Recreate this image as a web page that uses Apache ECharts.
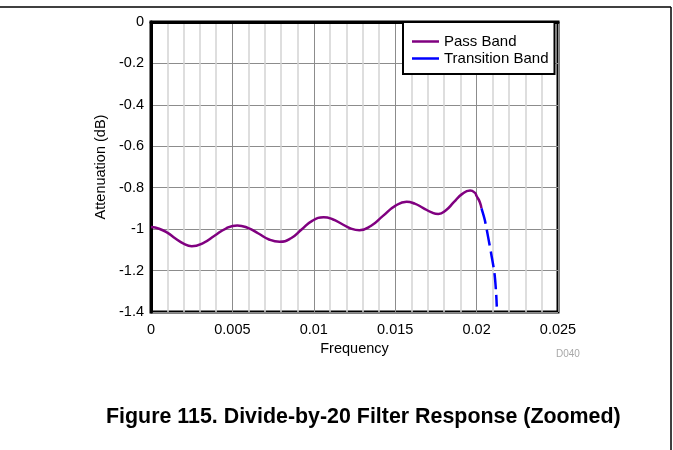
<!DOCTYPE html>
<html>
<head>
<meta charset="utf-8">
<script src="https://cdn.jsdelivr.net/npm/echarts@6/dist/echarts.min.js"></script>
<style>
  html, body { margin: 0; padding: 0; background: #fff; }
  #chart { width: 673px; height: 450px; }
</style>
</head>
<body>
<div id="chart"></div>
<script>
// pass band: [frequency, attenuation dB]
let passBand = [
  [0, -0.990], [0.0005, -0.998], [0.001, -1.017], [0.0015, -1.045], [0.002, -1.070],
  [0.0025, -1.082], [0.0032, -1.067], [0.0039, -1.032], [0.0046, -0.997], [0.0053, -0.982],
  [0.00595, -0.994], [0.0066, -1.021], [0.00725, -1.050], [0.0079, -1.061], [0.0086, -1.044],
  [0.00925, -1.002], [0.0099, -0.960], [0.0106, -0.943], [0.01115, -0.952], [0.0117, -0.974],
  [0.01225, -0.996], [0.0128, -1.005], [0.0135, -0.985], [0.01425, -0.936], [0.0150, -0.888],
  [0.0157, -0.868], [0.0162, -0.877], [0.0167, -0.897], [0.0172, -0.918], [0.01765, -0.927],
  [0.0181, -0.910], [0.0186, -0.870], [0.0191, -0.831], [0.0196, -0.814], [0.0199, -0.825],
  [0.0200, -0.840], [0.0202, -0.870], [0.0203, -0.900]
];
let transitionBand = [
  [0.0203, -0.900], [0.0205, -0.955], [0.0207, -1.035], [0.0209, -1.120],
  [0.0211, -1.215], [0.0212, -1.310], [0.02124, -1.374]
];
let seriesNames = ['Pass Band', 'Transition Band'];
let xTicks = { min: 0, max: 0.025, step: 0.005 };
let yTicks = { min: -1.4, max: 0, step: 0.2 };

let font = 'Liberation Sans, Arial, sans-serif';

let chart = echarts.init(document.getElementById('chart'));
let option = {
  animation: false,
  backgroundColor: '#fff',
  textStyle: { fontFamily: font },
  grid: {
    left: 151, top: 22, right: 115, bottom: 138,
    show: true, borderColor: '#000', borderWidth: 3
  },
  legend: {
    left: 403, top: 22,
    orient: 'vertical',
    backgroundColor: '#fff',
    borderColor: '#000',
    borderWidth: 2,
    borderRadius: 0,
    padding: [12, 6, 8, 9],
    itemGap: 2,
    itemWidth: 27,
    itemHeight: 2.5,
    icon: 'rect',
    textStyle: { fontSize: 15, color: '#000', fontFamily: font, lineHeight: 15 },
    data: seriesNames
  },
  xAxis: {
    type: 'value',
    min: xTicks.min, max: xTicks.max, interval: xTicks.step,
    name: 'Frequency',
    nameLocation: 'middle',
    nameGap: 20,
    nameTextStyle: { fontSize: 14.5, color: '#000', fontFamily: font },
    axisLine: { lineStyle: { color: '#000', width: 3 } },
    axisTick: { show: false },
    axisLabel: { fontSize: 14.5, color: '#000', margin: 10, fontFamily: font },
    splitLine: { lineStyle: { color: '#8c8c8c', width: 1 } },
    minorTick: { show: false, splitNumber: 5 },
    minorSplitLine: { show: true, lineStyle: { color: '#d4d4d4', width: 1.5 } }
  },
  yAxis: {
    type: 'value',
    min: yTicks.min, max: yTicks.max, interval: yTicks.step,
    name: 'Attenuation (dB)',
    nameLocation: 'middle',
    nameGap: 39,
    nameTextStyle: { fontSize: 14.5, color: '#000', fontFamily: font },
    axisLine: { lineStyle: { color: '#000', width: 3 } },
    axisTick: { show: false },
    axisLabel: { fontSize: 14.5, color: '#000', margin: 7, fontFamily: font },
    splitLine: { lineStyle: { color: '#8c8c8c', width: 1 } }
  },
  series: [
    {
      name: seriesNames[0],
      type: 'line',
      data: passBand,
      smooth: 0.5,
      symbol: 'none',
      color: '#800080',
      lineStyle: { color: '#800080', width: 2.5 }
    },
    {
      name: seriesNames[1],
      type: 'line',
      data: transitionBand,
      smooth: 0.3,
      symbol: 'none',
      color: '#0000ff',
      lineStyle: { color: '#0000ff', width: 2.5, type: [16, 6] }
    }
  ],
  graphic: [
    { type: 'line', shape: { x1: 0, y1: 7, x2: 671, y2: 7 }, style: { stroke: '#000', lineWidth: 1.5 } },
    { type: 'line', shape: { x1: 671, y1: 7, x2: 671, y2: 450 }, style: { stroke: '#000', lineWidth: 1.5 } },
    {
      type: 'text', left: 556, top: 349,
      style: { text: 'D040', fontSize: 10, fill: '#a8a8a8', fontFamily: font }
    },
    {
      type: 'text', left: 106, top: 407,
      style: {
        text: 'Figure 115. Divide-by-20 Filter Response (Zoomed)',
        fontSize: 21.4, fontWeight: 'bold', fill: '#000', fontFamily: font
      }
    }
  ]
};
chart.setOption(option);
</script>
</body>
</html>
